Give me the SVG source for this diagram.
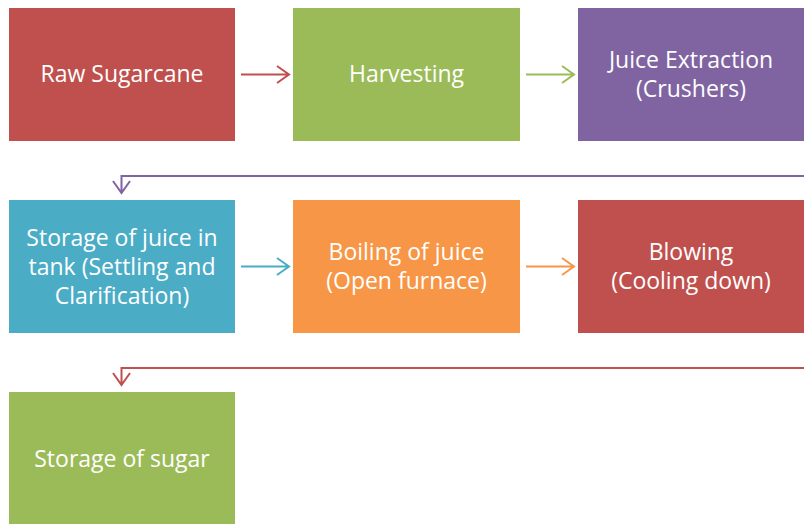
<svg xmlns="http://www.w3.org/2000/svg" width="804" height="524" viewBox="0 0 804 524">
<style>
.t{font-family:"Open Sans","Noto Sans",sans-serif;font-size:23px;fill:#fff;text-anchor:middle;dominant-baseline:central}
.c{fill:none;stroke-width:2}
</style>
<rect width="804" height="524" fill="#fff"/>
<g id="n1"><rect x="9" y="8" width="226" height="133" fill="#C0504D"/><text class="t" x="122" y="73">Raw Sugarcane</text></g>
<g id="n2"><rect x="293" y="8" width="227" height="133" fill="#9BBB59"/><text class="t" x="406.5" y="73">Harvesting</text></g>
<g id="n3"><rect x="578" y="8" width="230" height="133" fill="#8064A2"/><text class="t" x="691" y="58.5">Juice Extraction</text><text class="t" x="691" y="87.5">(Crushers)</text></g>
<g id="n4"><rect x="9" y="200" width="226" height="133" fill="#4BACC6"/><text class="t" x="122" y="236.5">Storage of juice in</text><text class="t" x="122" y="265.5">tank (Settling and</text><text class="t" x="122" y="294.5">Clarification)</text></g>
<g id="n5"><rect x="293" y="200" width="227" height="133" fill="#F79646"/><text class="t" x="406.5" y="250.5">Boiling of juice</text><text class="t" x="406.5" y="279.5">(Open furnace)</text></g>
<g id="n6"><rect x="578" y="200" width="230" height="133" fill="#C0504D"/><text class="t" x="691" y="250.5">Blowing</text><text class="t" x="691" y="279.5">(Cooling down)</text></g>
<g id="n7"><rect x="9" y="392" width="226" height="140" fill="#9BBB59"/><text class="t" x="122" y="457.5">Storage of sugar</text></g>
<g id="connectors">
<path class="c" stroke="#C0504D" d="M241 74.5H289M277 66L289 74.5L277 83"/>
<path class="c" stroke="#9BBB59" d="M526 74.5H574M562 66L574 74.5L562 83"/>
<path class="c" stroke="#8064A2" d="M806 176H121.5V193M113 181L121.5 193L130 181"/>
<path class="c" stroke="#4BACC6" d="M241 266.5H289M277 258L289 266.5L277 275"/>
<path class="c" stroke="#F79646" d="M526 266.5H574M562 258L574 266.5L562 275"/>
<path class="c" stroke="#C0504D" d="M806 368H121.5V385M113 373L121.5 385L130 373"/>
</g>
</svg>
